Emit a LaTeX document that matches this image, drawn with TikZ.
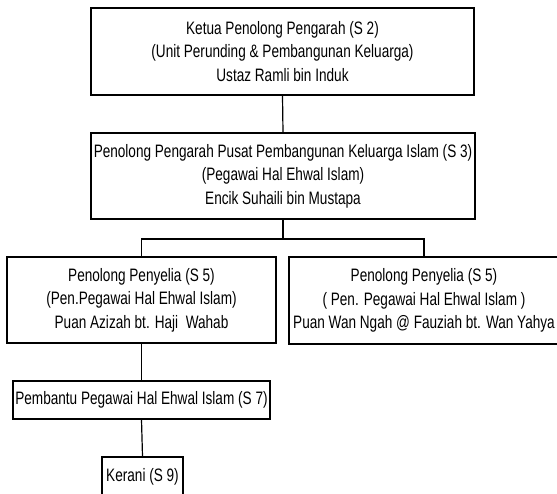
\documentclass[tikz,border=0pt]{standalone}
\usepackage{fontspec}
\setmainfont{Liberation Sans}[FakeStretch=0.755]

\begin{document}
\begin{tikzpicture}[x=1pt, y=-1pt,
    kotak/.style={draw, line width=1.2pt, inner sep=0pt, align=center, font=\fontsize{18}{23.5}\selectfont},
    garis/.style={line width=1.2pt}]
    \useasboundingbox (0,0) rectangle (557,493);
    % Top level
    \node[kotak, minimum width=383pt, minimum height=87pt] (ketua) at (282.5,51.5) {Ketua Penolong Pengarah (S 2)\\(Unit Perunding \& Pembangunan Keluarga)\\Ustaz Ramli bin Induk};
    \node[kotak, minimum width=384pt, minimum height=86pt] (penolong) at (283,176) {Penolong Pengarah Pusat Pembangunan Keluarga Islam (S 3)\\(Pegawai Hal Ehwal Islam)\\Encik Suhaili bin Mustapa};

    % Two supervisors
    \node[kotak, minimum width=269pt, minimum height=86pt] (penyeliaA) at (141.5,300) {Penolong Penyelia (S 5)\\(Pen.Pegawai Hal Ehwal Islam)\\Puan Azizah bt. Haji\ \ Wahab};
    \node[kotak, minimum width=270pt, minimum height=87pt] (penyeliaB) at (424,300.5) {Penolong Penyelia (S 5)\\( Pen. Pegawai Hal Ehwal Islam )\\Puan Wan Ngah @ Fauziah bt. Wan Yahya};

    % Lower staff
    \node[kotak, minimum width=257pt, minimum height=38pt] (pembantu) at (141.5,400) {Pembantu Pegawai Hal Ehwal Islam (S 7)};
    \node[kotak, minimum width=81pt, minimum height=40pt] (kerani) at (142.5,477) {Kerani (S 9)};

    % Lines
    \coordinate (simpang) at (283,239);
    \draw[garis] (ketua.south) -- (penolong.north);
    \draw[garis] (penolong.south) -- (simpang);
    \draw[garis] (penyeliaA.north) |- (simpang) -| (penyeliaB.north);
    \draw[garis] (penyeliaA.south) -- (pembantu.north);
    \draw[garis] (pembantu.south) -- (kerani.north);
\end{tikzpicture}
\end{document}
